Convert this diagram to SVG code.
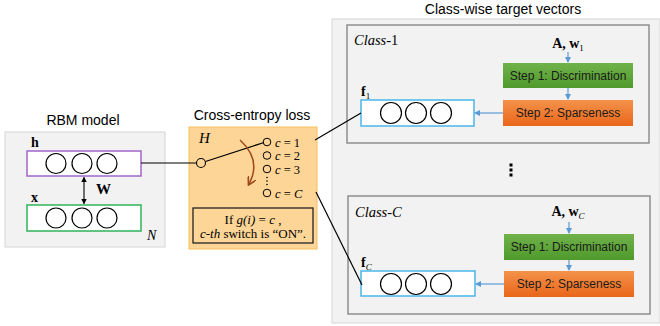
<svg xmlns="http://www.w3.org/2000/svg" width="660" height="326" viewBox="0 0 660 326">
  <defs>
    <linearGradient id="gGreen" x1="0" y1="0" x2="0" y2="1">
      <stop offset="0" stop-color="#70b24a"/>
      <stop offset="1" stop-color="#4f9a2c"/>
    </linearGradient>
    <linearGradient id="gOrange" x1="0" y1="0" x2="0" y2="1">
      <stop offset="0" stop-color="#f4924a"/>
      <stop offset="1" stop-color="#e9661a"/>
    </linearGradient>
    <marker id="blueHead" viewBox="0 0 6 6" refX="5" refY="3" markerWidth="5" markerHeight="5" orient="auto">
      <path d="M0,0 L6,3 L0,6 z" fill="#5b9bd5"/>
    </marker>
    <marker id="blackHead" viewBox="0 0 6 6" refX="5" refY="3" markerWidth="5" markerHeight="5" orient="auto-start-reverse">
      <path d="M0,0 L6,3 L0,6 z" fill="#000"/>
    </marker>
    <marker id="brownHead" viewBox="0 0 8 8" refX="6" refY="4" markerWidth="6" markerHeight="6" orient="auto">
      <path d="M0,0 L7,4 L0,8" fill="none" stroke="#a0481c" stroke-width="1.5"/>
    </marker>
  </defs>
  <style>
    .title { font-family: "Liberation Sans", Arial, sans-serif; font-size: 14px; fill: #000; text-anchor: middle; }
    .panel { fill: #f2f2f2; stroke: #d6d6d6; stroke-width: 1; }
    .classBox { fill: #f2f2f2; stroke: #7f7f7f; stroke-width: 1.3; }
    .unit { fill: #fff; stroke: #000; stroke-width: 1.2; }
    .serif { font-family: "Liberation Serif", "Times New Roman", serif; fill: #000; }
    .step { font-family: "Liberation Sans", Arial, sans-serif; font-size: 12px; fill: #1a1a1a; text-anchor: middle; }
    .fvec { fill: #fff; stroke: #4bb6ea; stroke-width: 1.5; }
    .blue { stroke: #5b9bd5; stroke-width: 1.2; fill: none; marker-end: url(#blueHead); }
    .wire { stroke: #000; stroke-width: 1.2; fill: none; }
    .sw { fill: none; stroke: #000; stroke-width: 1; }
  </style>

  <!-- section headings -->
  <text class="title" x="83" y="125">RBM model</text>
  <text class="title" x="252" y="120">Cross-entropy loss</text>
  <text class="title" x="503" y="14">Class-wise target vectors</text>

  <!-- RBM model -->
  <g id="rbm">
    <rect class="panel" x="5" y="132" width="160" height="115"/>
    <rect x="27" y="151" width="114" height="25" fill="#fff" stroke="#a066c8" stroke-width="1.5"/>
    <circle class="unit" cx="56" cy="163.5" r="10"/>
    <circle class="unit" cx="82" cy="163.5" r="10"/>
    <circle class="unit" cx="107" cy="163.5" r="10"/>
    <text class="serif" x="31" y="147" font-size="14" font-weight="bold">h</text>
    <rect x="27" y="205" width="114" height="26" fill="#fff" stroke="#2fb45a" stroke-width="1.5"/>
    <circle class="unit" cx="56" cy="218" r="10"/>
    <circle class="unit" cx="82" cy="218" r="10"/>
    <circle class="unit" cx="107" cy="218" r="10"/>
    <text class="serif" x="31" y="202" font-size="14" font-weight="bold">x</text>
    <line x1="84" y1="177.5" x2="84" y2="203.5" stroke="#000" stroke-width="1.1" marker-start="url(#blackHead)" marker-end="url(#blackHead)"/>
    <text class="serif" x="96" y="194" font-size="15" font-weight="bold">W</text>
    <text class="serif" x="147" y="240" font-size="14" font-style="italic">N</text>
  </g>

  <!-- Cross-entropy loss switch -->
  <g id="loss">
    <rect x="189" y="127" width="128" height="122" fill="#fdd597" stroke="#f7bd5e" stroke-width="1"/>
    <text class="serif" x="199" y="143" font-size="15" font-style="italic">H</text>
    <circle cx="201" cy="163" r="4.5" fill="#fdd597" stroke="#000" stroke-width="1.1"/>
    <line class="wire" x1="205.5" y1="161.5" x2="264" y2="142.5"/>
    <circle class="sw" cx="267" cy="142" r="3.8"/>
    <circle class="sw" cx="267" cy="155.5" r="3.8"/>
    <circle class="sw" cx="267" cy="169" r="3.8"/>
    <circle class="sw" cx="267" cy="193" r="3.8"/>
    <!-- vertical ellipsis between the third and last switch -->
    <circle cx="267" cy="177.5" r="0.8" fill="#000"/>
    <circle cx="267" cy="181" r="0.8" fill="#000"/>
    <circle cx="267" cy="184.5" r="0.8" fill="#000"/>
    <g class="serif" font-size="12.5">
      <text x="275" y="146.5"><tspan font-style="italic">c</tspan> = 1</text>
      <text x="275" y="160"><tspan font-style="italic">c</tspan> = 2</text>
      <text x="275" y="173.5"><tspan font-style="italic">c</tspan> = 3</text>
      <text x="275" y="197.5"><tspan font-style="italic">c</tspan> = <tspan font-style="italic">C</tspan></text>
    </g>
    <path d="M240,140 Q262,160 249,184" fill="none" stroke="#a0481c" stroke-width="1.5" marker-end="url(#brownHead)"/>
    <rect x="193" y="208" width="120" height="35" fill="#fdd597" stroke="#222" stroke-width="1.3"/>
    <text class="serif" x="253" y="224" font-size="13" text-anchor="middle">If <tspan font-style="italic">g(i)</tspan> = <tspan font-style="italic">c</tspan> ,</text>
    <text class="serif" x="253" y="238" font-size="13" text-anchor="middle"><tspan font-style="italic">c-th</tspan> switch is “ON”.</text>
  </g>

  <!-- Class-wise target vectors -->
  <g id="targets">
    <rect class="panel" x="332" y="19" width="328" height="304"/>
    <rect x="509.5" y="163.5" width="3" height="3" fill="#000"/>
    <rect x="509.5" y="168.5" width="3" height="3" fill="#000"/>
    <rect x="509.5" y="173.5" width="3" height="3" fill="#000"/>
  </g>

  <g id="class1">
    <rect class="classBox" x="347" y="25" width="302" height="118"/>
    <text class="serif" x="354" y="45" font-size="14.5"><tspan font-style="italic">Class</tspan>-1</text>
    <text class="serif" x="568" y="48" font-size="14" font-weight="bold" text-anchor="middle">A, w<tspan font-size="9" dy="3" font-weight="normal">1</tspan></text>
    <rect x="503" y="63" width="130" height="25" fill="url(#gGreen)"/>
    <text class="step" x="568" y="80">Step 1: Discrimination</text>
    <rect x="503" y="100" width="130" height="26" fill="url(#gOrange)"/>
    <text class="step" x="568" y="117">Step 2: Sparseness</text>
    <rect class="fvec" x="361" y="100" width="113" height="26"/>
    <circle class="unit" cx="391" cy="113" r="10.5"/>
    <circle class="unit" cx="416" cy="113" r="10.5"/>
    <circle class="unit" cx="441" cy="113" r="10.5"/>
    <text class="serif" x="361" y="96" font-size="14" font-weight="bold">f<tspan font-size="9" dy="3" font-weight="normal">1</tspan></text>
  </g>

  <g id="classC">
    <rect class="classBox" x="348" y="196" width="302" height="118"/>
    <text class="serif" x="355" y="217" font-size="14.5" font-style="italic">Class-C</text>
    <text class="serif" x="568" y="216" font-size="14" font-weight="bold" text-anchor="middle">A, w<tspan font-size="9" dy="3" font-weight="normal" font-style="italic">C</tspan></text>
    <rect x="504" y="234" width="130" height="26" fill="url(#gGreen)"/>
    <text class="step" x="569" y="251">Step 1: Discrimination</text>
    <rect x="504" y="271" width="130" height="26" fill="url(#gOrange)"/>
    <text class="step" x="569" y="288">Step 2: Sparseness</text>
    <rect class="fvec" x="361" y="271" width="114" height="25"/>
    <circle class="unit" cx="391" cy="284" r="10.5"/>
    <circle class="unit" cx="416" cy="284" r="10.5"/>
    <circle class="unit" cx="441" cy="284" r="10.5"/>
    <text class="serif" x="361" y="267" font-size="14" font-weight="bold">f<tspan font-size="9" dy="3" font-weight="normal" font-style="italic">C</tspan></text>
  </g>

  <!-- connectors -->
  <g id="connectors">
    <line class="wire" x1="141" y1="163" x2="196.5" y2="163"/>
    <line class="wire" x1="315" y1="140" x2="361" y2="113"/>
    <line class="wire" x1="316" y1="192" x2="362" y2="285"/>
    <line class="blue" x1="568" y1="52" x2="568" y2="62"/>
    <line class="blue" x1="568" y1="88" x2="568" y2="99"/>
    <line class="blue" x1="503" y1="113" x2="475" y2="113"/>
    <line class="blue" x1="569" y1="222" x2="569" y2="233"/>
    <line class="blue" x1="569" y1="260" x2="569" y2="270"/>
    <line class="blue" x1="504" y1="284" x2="476" y2="284"/>
  </g>
</svg>
